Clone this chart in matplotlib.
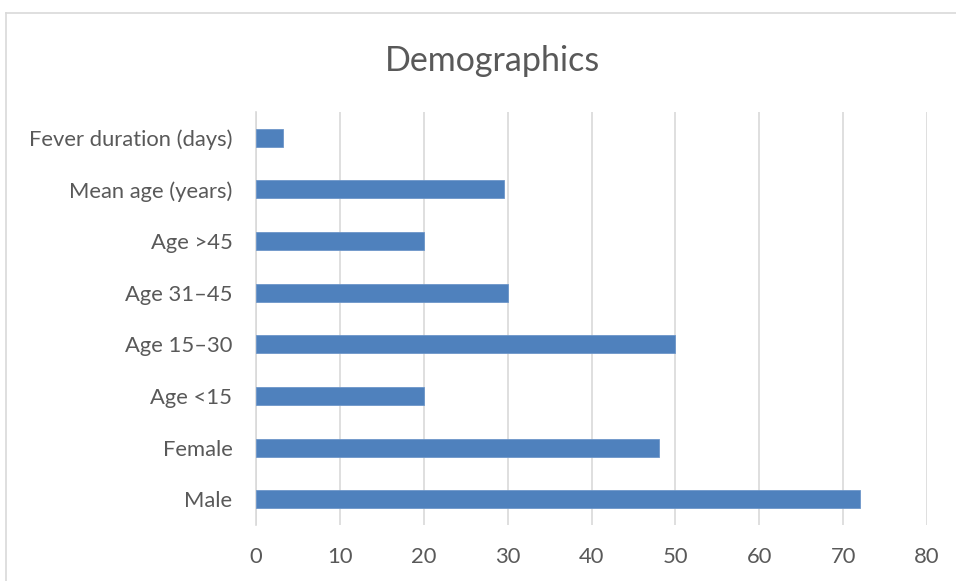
import matplotlib.pyplot as plt
from matplotlib.lines import Line2D

categories = ["Male", "Female", "Age <15", "Age 15\u201330", "Age 31\u201345",
              "Age >45", "Mean age (years)", "Fever duration (days)"]
values = [72, 48, 20, 50, 30, 20, 29.6, 3.2]
xticks = [0, 10, 20, 30, 40, 50, 60, 70, 80]

plt.rcParams['font.family'] = ['Lato', 'DejaVu Sans']
text_color = "#595959"
grid_color = "#D9D9D9"

fig = plt.figure(figsize=(9.56, 5.81), dpi=100)
ax = fig.add_axes([0.2678, 0.0964, 0.7019, 0.7108])

ax.barh(range(len(categories)), values, height=0.35, color="#4F81BD",
        edgecolor="#6D96C9", linewidth=0.6, zorder=3)

ax.set_xlim(0, 80)
ax.set_ylim(-0.5, len(categories) - 0.5)
ax.set_xticks(xticks)
ax.set_yticks(range(len(categories)))
ax.set_yticklabels(categories)
ax.tick_params(axis="both", length=0, colors=text_color, labelsize=15.8)
ax.tick_params(axis="x", pad=16)
ax.tick_params(axis="y", pad=17)
ax.grid(axis="x", color=grid_color, linewidth=1.2, zorder=0)
for side in ["top", "right", "bottom"]:
    ax.spines[side].set_visible(False)
ax.spines["left"].set_color(grid_color)
ax.spines["left"].set_linewidth(1.2)

fig.text(0.515, 0.895, "Demographics", ha="center", va="center",
         fontsize=24.5, color=text_color)

# chart frame
fig.add_artist(Line2D([0.006, 1.0], [0.978, 0.978], color=grid_color,
                      linewidth=1.2, transform=fig.transFigure))
fig.add_artist(Line2D([0.006, 0.006], [0.0, 0.978], color=grid_color,
                      linewidth=1.2, transform=fig.transFigure))

fig.savefig("out.png", dpi=100)
